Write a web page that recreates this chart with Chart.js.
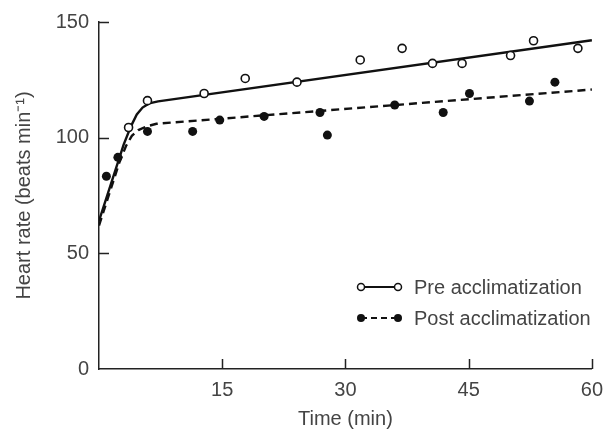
<!DOCTYPE html>
<html>
<head>
<meta charset="utf-8">
<script src="https://cdn.jsdelivr.net/npm/chart.js@4.4.1/dist/chart.umd.min.js"></script>
<style>
  html, body { margin: 0; padding: 0; background: #fff; }
  #wrap { width: 612px; height: 431px; position: relative; }
</style>
</head>
<body>
<div id="wrap"><canvas id="chart"></canvas></div>
<script>
// measured points
const preTime = [3.6, 5.9, 12.8, 17.8, 24.1, 31.8, 36.9, 40.6, 44.2, 50.1, 52.9, 58.3];
const preHR = [104.4, 116, 119.1, 125.6, 124, 133.6, 138.6, 132.1, 132.1, 135.5, 141.9, 138.6];
const postTime = [0.9, 2.3, 5.9, 11.4, 14.7, 20.1, 26.9, 27.8, 36.0, 41.9, 45.1, 52.4, 55.5];
const postHR = [83.3, 91.5, 102.7, 102.7, 107.6, 109.2, 110.9, 101.1, 114.1, 110.9, 119.1, 115.8, 124.0];

// fitted curves
const preFitTime = [0, 3, 3.9, 4.6, 5.3, 6.1, 7.2, 60];
const preFitHR = [64, 97, 105, 110, 113, 114.8, 115.7, 142.1];
const postFitTime = [0, 2.5, 3.3, 4, 4.8, 5.8, 7, 60];
const postFitHR = [62, 89.5, 96.5, 100.8, 103.3, 104.9, 106, 120.8];

const xTicks = [15, 30, 45, 60];
const yTicks = [0, 50, 100, 150];

const FONT = '"Liberation Sans", Arial, sans-serif';
const TEXT = '#444';

const pairs = (xs, ys) => xs.map((x, i) => ({ x: x, y: ys[i] }));

// inward tick marks + legend
const extras = {
    id: 'extras',
    afterDraw(chart) {
        const ctx = chart.ctx;
        const xs = chart.scales.x, ys = chart.scales.y;
        const area = chart.chartArea;
        ctx.save();
        ctx.strokeStyle = '#222';
        ctx.lineWidth = 1.5;
        ctx.beginPath();
        for (const v of yTicks) {
            if (v === 0) continue;
            const py = Math.round(ys.getPixelForValue(v)) + 0.5;
            ctx.moveTo(area.left, py);
            ctx.lineTo(area.left + 10, py);
        }
        for (const v of xTicks) {
            const px = Math.round(xs.getPixelForValue(v)) + 0.5;
            ctx.moveTo(px, area.bottom);
            ctx.lineTo(px, area.bottom - 10);
        }
        ctx.stroke();

        // legend
        const items = [
            { label: 'Pre acclimatization', y: 287, dash: [], open: true },
            { label: 'Post acclimatization', y: 318, dash: [6, 4], open: false }
        ];
        for (const it of items) {
            ctx.strokeStyle = '#111';
            ctx.lineWidth = 2.2;
            ctx.setLineDash(it.dash);
            ctx.beginPath();
            ctx.moveTo(361, it.y);
            ctx.lineTo(398, it.y);
            ctx.stroke();
            ctx.setLineDash([]);
            for (const cx of [361, 398]) {
                ctx.beginPath();
                ctx.arc(cx, it.y, it.open ? 3.5 : 4, 0, Math.PI * 2);
                ctx.fillStyle = it.open ? '#fff' : '#111';
                ctx.fill();
                if (it.open) { ctx.lineWidth = 1.5; ctx.stroke(); }
            }
            ctx.fillStyle = TEXT;
            ctx.font = '20px ' + FONT;
            ctx.textBaseline = 'middle';
            ctx.textAlign = 'left';
            ctx.fillText(it.label, 414, it.y + 1);
        }
        ctx.restore();
    }
};

new Chart(document.getElementById('chart'), {
    type: 'scatter',
    data: {
        datasets: [
            {
                label: 'Pre fit',
                type: 'line',
                data: pairs(preFitTime, preFitHR),
                borderColor: '#111',
                borderWidth: 2.4,
                pointRadius: 0,
                tension: 0,
                fill: false,
                order: 3
            },
            {
                label: 'Post fit',
                type: 'line',
                data: pairs(postFitTime, postFitHR),
                borderColor: '#111',
                borderWidth: 2.4,
                borderDash: [8, 5],
                pointRadius: 0,
                tension: 0,
                fill: false,
                order: 3
            },
            {
                label: 'Pre acclimatization',
                data: pairs(preTime, preHR),
                pointRadius: 4,
                pointBackgroundColor: '#fff',
                pointBorderColor: '#111',
                pointBorderWidth: 1.6,
                order: 1
            },
            {
                label: 'Post acclimatization',
                data: pairs(postTime, postHR),
                pointRadius: 4.5,
                pointBackgroundColor: '#111',
                pointBorderColor: '#111',
                pointBorderWidth: 0,
                order: 1
            }
        ]
    },
    options: {
        responsive: true,
        maintainAspectRatio: false,
        animation: false,
        layout: { padding: { top: 21, right: 15, left: 0, bottom: 0 } },
        plugins: {
            legend: { display: false },
            tooltip: { enabled: false }
        },
        scales: {
            x: {
                type: 'linear',
                min: 0,
                max: 60,
                afterBuildTicks: (s) => { s.ticks = xTicks.map(v => ({ value: v })); },
                afterFit: (s) => { s.height = 62; },
                grid: { display: false, drawTicks: false },
                border: { display: true, color: '#222', width: 1.5 },
                ticks: {
                    padding: 9,
                    color: TEXT,
                    font: { family: FONT, size: 20 }
                },
                title: {
                    display: true,
                    text: 'Time (min)',
                    color: TEXT,
                    font: { family: FONT, size: 20 },
                    padding: { top: 2, bottom: 0 }
                }
            },
            y: {
                type: 'linear',
                min: 0,
                max: 150,
                afterBuildTicks: (s) => { s.ticks = yTicks.map(v => ({ value: v })); },
                afterFit: (s) => { s.width = 99; },
                grid: { display: false, drawTicks: false },
                border: { display: true, color: '#222', width: 1.5 },
                ticks: {
                    padding: 10,
                    color: TEXT,
                    font: { family: FONT, size: 20 }
                },
                title: {
                    display: true,
                    text: 'Heart rate (beats min⁻¹)',
                    color: TEXT,
                    font: { family: FONT, size: 20 },
                    padding: { top: 12, bottom: 0 }
                }
            }
        }
    },
    plugins: [extras]
});
</script>
</body>
</html>
